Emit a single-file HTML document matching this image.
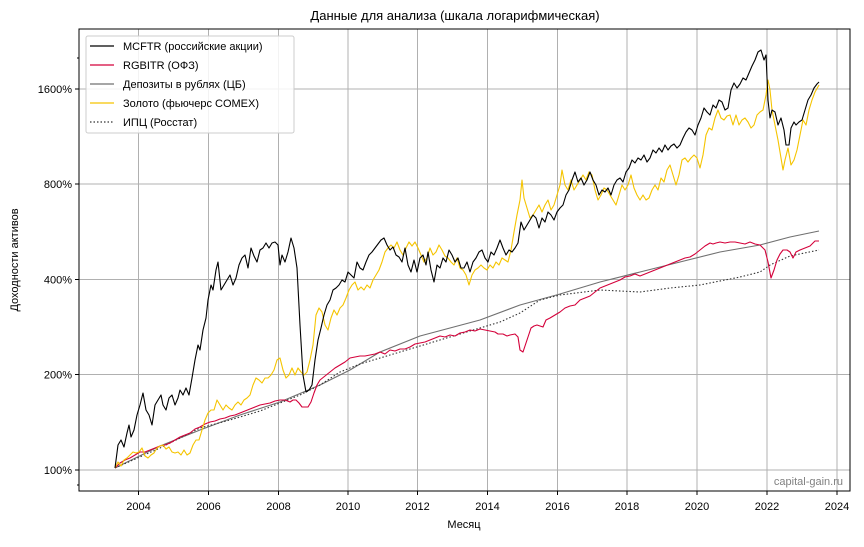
<!DOCTYPE html>
<html><head><meta charset="utf-8"><style>
body{margin:0;background:#fff;}
svg text{font-family:"Liberation Sans","DejaVu Sans",sans-serif;fill:#000;}
</style></head><body>
<svg width="864" height="542" xmlns="http://www.w3.org/2000/svg">
<rect width="864" height="542" fill="#fff"/>
<text x="455" y="20" font-size="13" text-anchor="middle">Данные для анализа (шкала логарифмическая)</text>
<g stroke="#b0b0b0" stroke-width="1">
<line x1="138.5" y1="29" x2="138.5" y2="491"/><line x1="208.5" y1="29" x2="208.5" y2="491"/><line x1="278.5" y1="29" x2="278.5" y2="491"/><line x1="348" y1="29" x2="348" y2="491"/><line x1="417.5" y1="29" x2="417.5" y2="491"/><line x1="487.5" y1="29" x2="487.5" y2="491"/><line x1="557.5" y1="29" x2="557.5" y2="491"/><line x1="627" y1="29" x2="627" y2="491"/><line x1="697" y1="29" x2="697" y2="491"/><line x1="767" y1="29" x2="767" y2="491"/><line x1="837" y1="29" x2="837" y2="491"/>
<line x1="79" y1="470" x2="850" y2="470"/><line x1="79" y1="374.5" x2="850" y2="374.5"/><line x1="79" y1="279.5" x2="850" y2="279.5"/><line x1="79" y1="184" x2="850" y2="184"/><line x1="79" y1="89" x2="850" y2="89"/>
</g>
<g fill="none" stroke-width="1.1" stroke-linejoin="round">
<polyline stroke="#707070" points="115,468 160,446 200,430 240,415 280,402 320,385 350,370 380,352 420,336 450,328 480,320 520,305 560,294 600,282 640,272 680,262 720,252 760,245 790,237 819,231"/>
<polyline stroke="#333" stroke-dasharray="1.5,2" points="115,468 160,448 200,428 230,420 260,411 300,395 320,385 340,372 360,364 400,352 440,340 480,328 500,322 520,313 540,300 560,295 600,290 640,292 670,288 700,285 740,277 760,272 770,265 790,256 819,250"/>
<polyline stroke="#d4003a" points="115,468 120,463 125,460 130,458 135,455 140,452 145,452 150,450 155,448 160,446 165,445 170,443 175,440 180,437 185,435 190,433 195,429 200,427 205,424 210,422 215,421 220,419 225,418 230,416 235,415 240,413 245,411 250,409 255,407 260,405 265,404 270,403 275,401 280,400 285,400 290,402 293,400 296,400 299,403 302,407 305,407 308,407 311,402 314,393 317,385 320,380 325,376 330,372 335,368 340,365 345,362 350,358 355,357 360,356 365,356 370,355 375,354 380,352 385,354 390,350 395,351 400,349 405,349 410,347 415,344 420,343 425,342 430,340 435,338 440,336 445,337 450,335 455,336 460,333 465,332 470,330 475,331 480,329 485,330 490,331 495,332 498,334 503,334 507,336 510,335 515,334 518,337 520,350 523,352 525,346 528,337 531,328 534,326 537,325 540,326 543,327 546,320 550,318 555,315 560,312 565,308 570,306 575,305 580,300 585,298 590,296 595,292 600,288 605,286 610,284 615,282 620,280 625,277 630,276 635,274 640,276 645,274 650,272 655,270 660,268 665,266 670,264 675,262 680,260 685,258 690,257 695,254 700,250 705,246 710,243 713,244 716,243 720,242 725,243 730,242 735,242 740,243 745,244 750,242 755,244 760,245 765,250 768,262 771,278 774,270 777,260 780,254 783,250 787,250 790,252 793,258 796,252 800,250 805,248 810,246 815,241 819,241"/>
<polyline stroke="#f5c400" points="115,468 118,462 121,466 124,460 127,458 130,455 133,452 136,453 139,452 142,448 145,456 148,458 151,455 154,453 157,448 160,446 163,445 166,449 169,447 172,452 175,453 178,452 181,455 184,450 187,455 190,453 193,445 196,440 199,440 202,430 205,420 208,413 211,410 214,410 217,400 220,405 223,410 226,405 229,408 232,410 235,405 238,402 241,405 244,400 247,398 250,395 253,385 256,378 259,380 262,383 265,378 268,378 271,375 274,370 277,360 280,358 283,370 286,378 289,375 292,368 295,375 298,368 301,372 304,375 307,372 310,360 313,345 316,315 319,308 322,312 325,325 328,330 331,318 334,310 337,315 340,308 343,305 346,298 349,290 352,285 355,282 358,290 361,287 364,290 367,285 370,288 373,280 376,275 379,270 382,262 385,252 388,248 391,245 394,248 397,242 400,250 403,255 406,248 409,242 412,246 415,242 418,248 421,255 424,262 427,258 430,248 433,255 436,252 439,245 442,250 445,256 448,258 451,262 454,265 457,258 460,268 463,270 466,275 469,285 472,275 475,270 478,268 481,265 484,268 487,270 490,265 493,268 496,262 499,265 502,258 505,260 508,262 511,250 514,232 517,215 520,200 522,180 524,198 527,208 530,218 533,215 536,210 539,205 542,212 545,205 548,200 551,210 554,205 557,195 560,185 562,170 565,185 568,190 571,180 574,190 577,185 580,180 583,175 586,180 589,172 592,175 595,190 598,200 601,195 604,188 607,190 610,195 613,200 616,205 619,195 622,185 625,190 628,185 631,175 634,188 637,195 640,200 643,195 646,200 649,198 652,190 655,185 658,190 661,178 664,182 667,170 670,165 673,175 676,185 679,175 682,160 685,158 688,162 691,158 694,155 697,158 700,168 703,155 706,135 709,128 712,130 715,118 718,110 721,118 724,120 727,116 730,115 733,125 736,115 739,125 742,120 745,118 748,122 751,128 754,125 757,115 760,112 763,110 766,95 768,80 770,90 772,110 775,125 778,140 780,152 783,170 785,160 788,148 791,165 794,160 797,150 800,135 803,120 806,125 809,110 812,100 815,92 819,85"/>
<polyline stroke="#000" points="115,468 118,445 121,440 124,447 127,433 129,425 131,437 134,430 137,415 140,405 143,393 146,410 149,415 152,425 155,405 158,400 161,395 163,405 166,410 169,398 172,395 175,405 178,398 180,390 183,395 186,388 189,395 192,378 195,360 198,345 200,350 203,330 206,318 208,300 211,285 213,290 216,270 218,262 221,290 224,285 227,280 230,275 233,285 236,278 239,265 242,258 245,255 248,268 251,248 254,256 257,262 260,250 263,248 266,243 269,248 272,243 275,242 278,245 280,265 282,255 285,262 288,252 291,238 294,248 297,268 300,325 303,375 306,392 309,390 312,385 315,360 318,340 321,328 324,315 327,305 330,300 333,290 336,288 339,285 342,280 345,282 348,272 351,275 354,278 357,262 360,268 363,270 366,262 369,255 372,252 375,248 378,244 381,240 384,238 387,245 390,250 393,247 396,255 399,257 402,262 405,248 408,265 411,272 414,260 417,272 420,258 423,255 426,265 428,252 431,270 434,282 437,265 440,268 443,258 446,262 449,250 452,255 455,262 458,258 461,268 464,268 467,262 470,272 473,262 476,258 479,252 482,250 485,258 488,262 491,252 494,255 497,248 500,240 503,248 506,255 509,250 512,252 515,248 518,243 521,222 524,230 527,225 530,220 533,215 536,218 539,228 542,218 545,222 548,212 551,215 554,220 557,212 560,208 563,205 566,195 569,190 572,180 575,172 578,182 581,178 584,185 587,180 590,172 593,180 596,185 599,195 602,190 605,192 608,188 611,195 614,185 617,180 620,178 623,182 626,172 629,168 632,160 635,163 638,158 641,160 644,155 647,162 650,158 653,150 656,153 659,148 662,152 665,145 668,150 671,146 674,144 677,148 680,145 683,138 686,132 689,128 692,130 695,135 698,125 701,118 704,108 707,112 710,115 713,105 716,108 719,100 722,102 725,110 728,108 731,90 734,83 737,88 740,84 743,78 746,80 749,73 752,66 755,60 758,52 761,50 764,60 766,55 768,100 770,118 772,110 775,112 778,125 781,118 784,130 786,145 789,145 791,128 794,122 796,125 799,122 802,120 805,110 808,100 811,95 814,88 817,84 819,82"/>
</g>
<rect x="79" y="29" width="771" height="462" fill="none" stroke="#000" stroke-width="1"/>
<g stroke="#000" stroke-width="1">
<line x1="75" y1="470" x2="79" y2="470"/><line x1="75" y1="374.5" x2="79" y2="374.5"/><line x1="75" y1="279.5" x2="79" y2="279.5"/><line x1="75" y1="184" x2="79" y2="184"/><line x1="75" y1="89" x2="79" y2="89"/>
<line x1="77" y1="58" x2="79" y2="58"/><line x1="77" y1="485" x2="79" y2="485"/>
<line x1="138.5" y1="491" x2="138.5" y2="495"/><line x1="208.5" y1="491" x2="208.5" y2="495"/><line x1="278.5" y1="491" x2="278.5" y2="495"/><line x1="348" y1="491" x2="348" y2="495"/><line x1="417.5" y1="491" x2="417.5" y2="495"/><line x1="487.5" y1="491" x2="487.5" y2="495"/><line x1="557.5" y1="491" x2="557.5" y2="495"/><line x1="627" y1="491" x2="627" y2="495"/><line x1="697" y1="491" x2="697" y2="495"/><line x1="767" y1="491" x2="767" y2="495"/><line x1="837" y1="491" x2="837" y2="495"/>
</g>
<g font-size="11" text-anchor="end">
<text x="72" y="474">100%</text><text x="72" y="378.5">200%</text><text x="72" y="283.5">400%</text><text x="72" y="188">800%</text><text x="72" y="93">1600%</text>
</g>
<g font-size="11" text-anchor="middle">
<text x="138.5" y="510">2004</text><text x="208.5" y="510">2006</text><text x="278.5" y="510">2008</text><text x="348" y="510">2010</text><text x="417.5" y="510">2012</text><text x="487.5" y="510">2014</text><text x="557.5" y="510">2016</text><text x="627" y="510">2018</text><text x="697" y="510">2020</text><text x="767" y="510">2022</text><text x="837" y="510">2024</text>
</g>
<text x="464" y="528" font-size="11" text-anchor="middle">Месяц</text>
<text transform="translate(18,260) rotate(-90)" font-size="11" text-anchor="middle">Доходности активов</text>
<text x="843" y="485" font-size="11" text-anchor="end" style="fill:#808080">capital-gain.ru</text>
<rect x="86" y="36" width="208" height="97" rx="2" fill="#fff" fill-opacity="0.85" stroke="#ccc"/>
<g stroke-width="1.2">
<line x1="90" y1="46" x2="114" y2="46" stroke="#000"/>
<line x1="90" y1="65" x2="114" y2="65" stroke="#d4003a"/>
<line x1="90" y1="84" x2="114" y2="84" stroke="#707070"/>
<line x1="90" y1="103" x2="114" y2="103" stroke="#f5c400"/>
<line x1="90" y1="122" x2="114" y2="122" stroke="#333" stroke-dasharray="1.5,2"/>
</g>
<g font-size="11">
<text x="123" y="50">MCFTR (российские акции)</text>
<text x="123" y="69">RGBITR (ОФЗ)</text>
<text x="123" y="88">Депозиты в рублях (ЦБ)</text>
<text x="123" y="107">Золото (фьючерс COMEX)</text>
<text x="123" y="126">ИПЦ (Росстат)</text>
</g>
</svg>
</body></html>
